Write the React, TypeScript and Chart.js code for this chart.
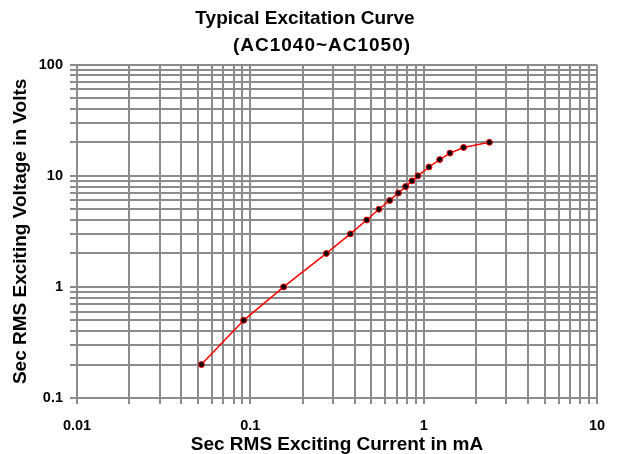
import React, { useEffect, useRef } from "react";
import { Chart, registerables } from "chart.js";

Chart.register(...registerables);

const titleLines = ["Typical Excitation Curve", "(AC1040~AC1050)"];
const xAxisTitle = "Sec RMS Exciting Current in mA";
const yAxisTitle = "Sec RMS Exciting Voltage in Volts";

// Secondary RMS exciting current (mA)
const currentMA = [
  0.0522, 0.0915, 0.1557, 0.2745, 0.3777, 0.469, 0.552, 0.6365, 0.7145,
  0.787, 0.856, 0.927, 1.073, 1.237, 1.418, 1.7, 2.394,
];
// Secondary RMS exciting voltage (V)
const voltageV = [
  0.2, 0.5, 1, 2, 3, 4, 5, 6, 7, 8, 9, 10, 12, 14, 16, 18, 20,
];

const xDecades = [-2, -1, 0];
const yDecades = [-1, 0, 1];
const xRange = [0.01, 10];
const yRange = [0.1, 100];
const mantissas = [1, 2, 3, 4, 5, 6, 7, 8, 9];

function logTicks(decades: number[], max: number): number[] {
  const out: number[] = [];
  decades.forEach((e) => {
    mantissas.forEach((m) => {
      out.push(Number((m * Math.pow(10, e)).toPrecision(6)));
    });
  });
  out.push(max);
  return out;
}

function isDecade(v: number): boolean {
  const l = Math.log10(v);
  return Math.abs(l - Math.round(l)) < 1e-9;
}

function decadeLabel(v: number): string {
  return isDecade(v) ? String(Number(v.toPrecision(1))) : "";
}

const FONT = "'Liberation Sans', Arial, Helvetica, sans-serif";
const GRID = "#8c8c8c";

// Title layout (text placement only)
const TITLE_STYLE = [
  { cx: 305, cy: 19, spacing: "0px" },
  { cx: 322, cy: 46, spacing: "1px" },
];

const titlePlugin = {
  id: "twoLineTitle",
  afterDraw(chart: any) {
    const ctx = chart.ctx as CanvasRenderingContext2D;
    ctx.save();
    ctx.fillStyle = "#000";
    ctx.font = `bold 19px ${FONT}`;
    ctx.textAlign = "center";
    ctx.textBaseline = "middle";
    titleLines.forEach((line, i) => {
      const st = TITLE_STYLE[i];
      (ctx as any).letterSpacing = st.spacing;
      ctx.fillText(line, st.cx, st.cy);
    });
    ctx.restore();
  },
};

export default function App() {
  const ref = useRef<HTMLCanvasElement | null>(null);

  useEffect(() => {
    if (!ref.current) return;
    const xTicks = logTicks(xDecades, xRange[1]);
    const yTicks = logTicks(yDecades, yRange[1]);
    const chart = new Chart(ref.current, {
      type: "line",
      data: {
        datasets: [
          {
            data: currentMA.map((x, i) => ({ x, y: voltageV[i] })),
            borderColor: "#ff0000",
            borderWidth: 1.5,
            backgroundColor: "#000000",
            pointBackgroundColor: "#000000",
            pointBorderColor: "#ff0000",
            pointBorderWidth: 1,
            pointRadius: 3,
            tension: 0,
          },
        ],
      },
      plugins: [titlePlugin],
      options: {
        responsive: false,
        animation: false,
        layout: { padding: { left: 0, right: 22, top: 64.7, bottom: 0 } },
        plugins: {
          legend: { display: false },
          tooltip: { enabled: false },
          title: { display: false },
        },
        scales: {
          x: {
            type: "logarithmic",
            min: xRange[0],
            max: xRange[1],
            afterBuildTicks: (s: any) => {
              s.ticks = xTicks.map((value) => ({ value }));
            },
            afterFit: (s: any) => {
              s.height = 56;
            },
            grid: { color: GRID, lineWidth: 2, tickLength: 6, tickColor: GRID },
            border: { display: true, color: GRID, width: 2 },
            ticks: {
              autoSkip: false,
              maxRotation: 0,
              padding: 13,
              color: "#000",
              font: { family: FONT, size: 14.5, weight: "bold" },
              callback: (v: any) => decadeLabel(Number(v)),
            },
            title: {
              display: true,
              text: xAxisTitle,
              color: "#000",
              font: { family: FONT, size: 19, weight: "bold" },
              padding: { top: 0, bottom: -2 },
            },
          },
          y: {
            type: "logarithmic",
            min: yRange[0],
            max: yRange[1],
            afterBuildTicks: (s: any) => {
              s.ticks = yTicks.map((value) => ({ value }));
            },
            afterFit: (s: any) => {
              s.width = 77;
            },
            grid: { color: GRID, lineWidth: 2, tickLength: 7, tickColor: GRID },
            border: { display: true, color: GRID, width: 2 },
            ticks: {
              autoSkip: false,
              padding: 7,
              color: "#000",
              font: { family: FONT, size: 14.5, weight: "bold" },
              callback: (v: any) => decadeLabel(Number(v)),
            },
            title: {
              display: true,
              text: yAxisTitle,
              color: "#000",
              font: { family: FONT, size: 19, weight: "bold" },
              padding: { top: 9, bottom: 0 },
            },
          },
        },
      },
    });
    return () => chart.destroy();
  }, []);

  return (
    <div style={{ position: "fixed", left: 0, top: 0, width: 619, height: 454, background: "#fff" }}>
      <canvas ref={ref} width={619} height={454} style={{ display: "block" }} />
    </div>
  );
}
